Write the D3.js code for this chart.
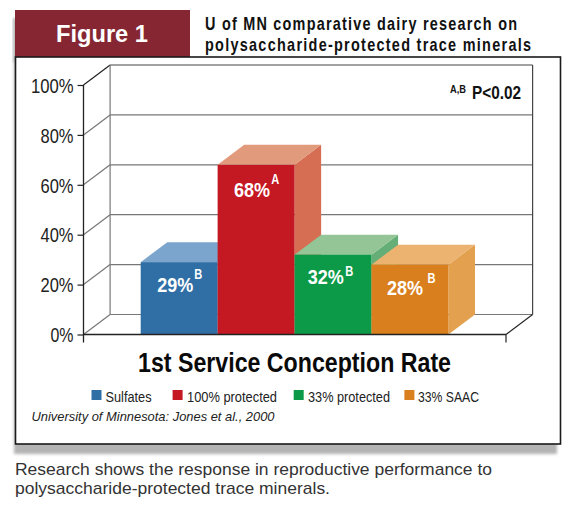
<!DOCTYPE html>
<html><head><meta charset="utf-8">
<script src="https://cdn.jsdelivr.net/npm/d3@7/dist/d3.min.js"></script>
<style>html,body{margin:0;padding:0;background:#fff}svg{display:block}
text{font-family:"Liberation Sans",Arial,sans-serif}</style></head><body>
<script>
const categories=["Sulfates","100% protected","33% protected","33% SAAC"];
const values=[29,68,32,28];
const valueLabels=["29%","68%","32%","28%"];
const marks=["B","A","B","B"];
const frontColors=["#2f6fa6","#c41823","#0c9a48","#d97f1e"];
const topColors=["#7ba5cc","#e29a7c","#93c596","#ebb36f"];
const sideColors=["#6a97c0","#d56e52","#66ae78","#e3a04e"];
const yTicks=[0,20,40,60,80,100];

const W=575,H=509;
const svg=d3.select("body").append("svg").attr("width",W).attr("height",H);
const defs=svg.append("defs");
defs.append("filter").attr("id","blur").attr("x","-5%").attr("y","-5%").attr("width","110%").attr("height","110%")
  .append("feGaussianBlur").attr("stdDeviation",1.8);

const y=d3.scaleLinear().domain([0,100]).range([334.5,85]);
const x=d3.scaleBand().domain(categories).range([140.7,448.4]).padding(0);
const axisL=83.5,axisR=506,dx=26.6,dy=-20;

function label(parent,o){
  const t=parent.append("text").attr("x",o.x).attr("y",o.y).attr("fill",o.fill||"#111")
    .style("font-size",o.size+"px").style("font-weight",o.bold?"700":"400").text(o.text);
  if(o.italic) t.style("font-style","italic");
  if(o.w) t.attr("textLength",o.w).attr("lengthAdjust","spacingAndGlyphs");
  return t;
}
function squeezed(parent,o){
  return parent.append("text").attr("transform",`translate(${o.x},${o.y}) scale(${o.sx},1)`).attr("fill",o.fill)
    .style("font-size",o.size+"px").style("font-weight","700").text(o.text);
}

// panel
svg.append("rect").attr("x",14).attr("y",60).attr("width",543).attr("height",394).attr("fill","#b4b4b4").attr("filter","url(#blur)");
svg.append("rect").attr("x",13).attr("y",18).attr("width",6).attr("height",44).attr("fill","#b4b4b4").attr("filter","url(#blur)");
svg.append("rect").attr("x",15).attr("y",10).attr("width",175).attr("height",47).attr("fill","#862633");
svg.append("rect").attr("x",15.5).attr("y",57).attr("width",545).attr("height",387).attr("fill","#fff").attr("stroke","#1a1a1a").attr("stroke-width",1.6);
label(svg,{x:56,y:42,size:23,bold:true,fill:"#fff",w:92,text:"Figure 1"});

// title: narrow glyphs with open letter spacing
const titleLines=["U of MN comparative dairy research on","polysaccharide-protected trace minerals"];
const titleWidths=[312,326], titleSquash=0.78;
titleLines.forEach((d,i)=>{
  svg.append("text").attr("transform",`translate(205,${30+i*21}) scale(${titleSquash},1)`)
    .attr("fill","#111").style("font-size","18.5px").style("font-weight","700")
    .attr("textLength",titleWidths[i]/titleSquash).attr("lengthAdjust","spacing").text(d);
});

// gridlines and walls
const grid=svg.append("g").attr("stroke","#777").attr("stroke-width",1.2).attr("fill","none");
yTicks.forEach(t=>{
  grid.append("line").attr("x1",axisL).attr("y1",y(t)).attr("x2",axisL+dx).attr("y2",y(t)+dy).attr("stroke",t===100?"#222":"#777");
  grid.append("line").attr("x1",axisL+dx).attr("y1",y(t)+dy).attr("x2",axisR+dx).attr("y2",y(t)+dy).attr("stroke",t===100?"#444":"#777");
});
grid.append("line").attr("x1",axisL+dx).attr("y1",y(0)+dy).attr("x2",axisL+dx).attr("y2",y(100)+dy);
grid.append("line").attr("x1",axisR+dx).attr("y1",y(0)+dy).attr("x2",axisR+dx).attr("y2",y(100)+dy).attr("stroke","#444");
svg.append("line").attr("x1",axisR).attr("y1",y(0)).attr("x2",axisR+dx).attr("y2",y(0)+dy).attr("stroke","#222").attr("stroke-width",1.1);

// bars
const path=p=>d3.line()(p)+"Z";
const bars=svg.append("g");
const labelDx=[-3.8,-4,-7.3,-5], labelDy=[29.5,32.5,29.5,30.5], supDx=[18.8,19.2,19.5,22.5], supDy=[-12.4,-13.3,-8.3,-12];
categories.forEach((c,i)=>{
  const l=x(c),r=l+x.bandwidth(),t=y(values[i]),b=y(0);
  bars.append("path").attr("d",path([[r,t],[r+dx,t+dy],[r+dx,b+dy],[r,b]])).attr("fill",sideColors[i]);
  bars.append("path").attr("d",path([[l,t],[l+dx,t+dy],[r+dx,t+dy],[r,t]])).attr("fill",topColors[i]);
  bars.append("rect").attr("x",l).attr("y",t).attr("width",x.bandwidth()).attr("height",b-t).attr("fill",frontColors[i]);
});
categories.forEach((c,i)=>{
  const t=y(values[i]);
  const cx=x(c)+x.bandwidth()/2+labelDx[i], base=t+labelDy[i];
  squeezed(bars,{x:cx-18,y:base,sx:0.9,size:20,fill:"#fff",text:valueLabels[i]});
  squeezed(bars,{x:cx+supDx[i],y:base+supDy[i],sx:0.74,size:15,fill:"#fff",text:marks[i]});
});

// axes
const yAxis=d3.axisLeft(y).tickValues(yTicks).tickSize(6).tickPadding(4).tickFormat(d=>d+"%");
const gy=svg.append("g").attr("transform",`translate(${axisL},0)`).call(yAxis);
gy.select(".domain").attr("stroke","#222").attr("stroke-width",1.3).attr("d",`M0,${y(100)}V${y(0)+8}`);
gy.selectAll(".tick line").attr("stroke","#222").attr("stroke-width",1.2);
gy.selectAll("text").attr("fill","#222").style("font-size","20px").style("font-family","'Liberation Sans',sans-serif").attr("dy","0.36em")
  .attr("textLength",d=>d===100?42.6:(d===0?23:33)).attr("lengthAdjust","spacingAndGlyphs");
svg.append("line").attr("x1",axisL).attr("y1",y(0)).attr("x2",axisR).attr("y2",y(0)).attr("stroke","#222").attr("stroke-width",1.4);
svg.append("line").attr("x1",axisR).attr("y1",y(0)).attr("x2",axisR).attr("y2",y(0)+8).attr("stroke","#222").attr("stroke-width",1.2);

// note
label(svg,{x:450,y:93,size:11,bold:true,w:16,text:"A,B"});
label(svg,{x:472,y:99,size:18,bold:true,w:49,text:"P<0.02"});

// labels
label(svg,{x:138,y:372,size:27,bold:true,fill:"#0a0a0a",w:313,text:"1st Service Conception Rate"});
const legX=[91.5,172.6,293.7,404.4],legTextX=[105.5,187,308,418],legW=[46,90,82,61];
categories.forEach((c,i)=>{
  svg.append("rect").attr("x",legX[i]).attr("y",390).attr("width",10).attr("height",10).attr("fill",frontColors[i]);
  label(svg,{x:legTextX[i],y:401.5,size:15.5,fill:"#222",w:legW[i],text:c});
});
label(svg,{x:31.5,y:421,size:13,italic:true,fill:"#222",w:243,text:"University of Minnesota: Jones et al., 2000"});
const caption=["Research shows the response in reproductive performance to","polysaccharide-protected trace minerals."];
const capW=[477,315];
caption.forEach((d,i)=>label(svg,{x:15,y:475+i*19,size:17,fill:"#333",w:capW[i],text:d}));
</script></body></html>
